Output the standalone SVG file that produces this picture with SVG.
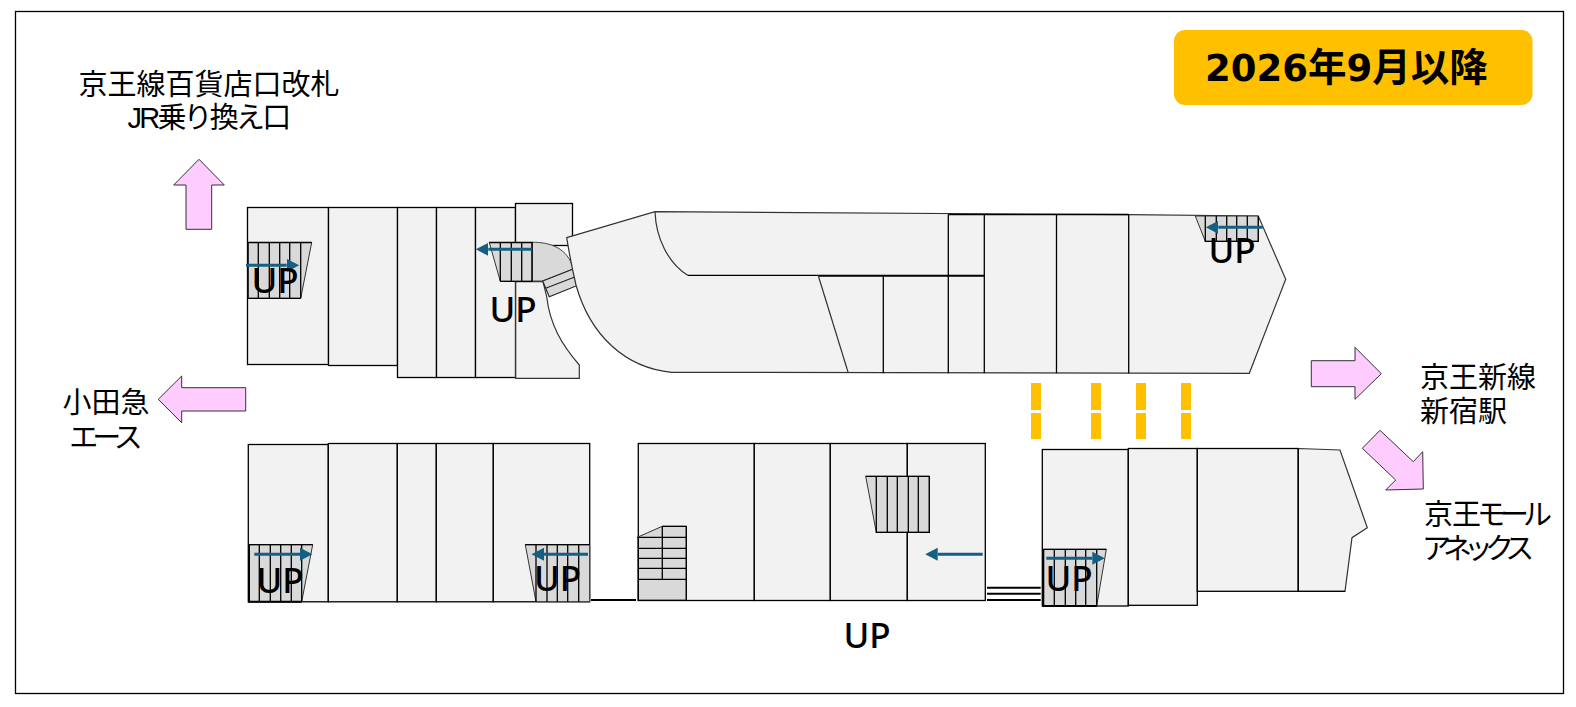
<svg xmlns="http://www.w3.org/2000/svg" width="1576" height="707" viewBox="0 0 1576 707">
<style>
.b{fill:#f2f2f2;stroke:#000;stroke-width:1.3}
.c{fill:#f2f2f2;stroke:#333;stroke-width:1.2}
.s{fill:#d9d9d9;stroke:#000;stroke-width:1.3}
.t{fill:#d9d9d9;stroke:#333;stroke-width:1}
.l{fill:none;stroke:#000;stroke-width:1.3}
.w{fill:none;stroke:#000;stroke-width:2}
.a{fill:none;stroke:#156082;stroke-width:3;marker-end:url(#h)}
.p{fill:#ffccff;stroke:#333;stroke-width:1}
.y{fill:#ffc000}
text{font-family:"Liberation Sans","Noto Sans CJK JP",sans-serif;font-size:29px;fill:#000}
.u{font-family:"Noto Sans",sans-serif;font-size:35px;font-weight:500;text-anchor:middle}
.m{text-anchor:middle}
</style>
<defs>
<marker id="h" markerUnits="userSpaceOnUse" markerWidth="13" markerHeight="14" refX="0" refY="7" orient="auto"><path d="M0 .5L12.5 7L0 13.500Z" fill="#156082"/></marker>
</defs>
<rect id="frame" x="15.500" y="11.500" width="1548" height="682" fill="#fff" stroke="#000" stroke-width="1.300"/>
<g id="badge"><rect x="1174" y="30" width="358.500" height="75" rx="11" fill="#ffc000"/><text x="1205" y="81" style="font-size:38.500px;font-weight:700"><tspan style="font-family:'DejaVu Sans',sans-serif;font-size:37px">2026</tspan>年<tspan style="font-family:'DejaVu Sans',sans-serif;font-size:37px">9</tspan>月以降</text></g>

<g id="block-top-left">
<rect class="b" x="247.500" y="207.500" width="81" height="157"/>
<rect class="b" x="328.500" y="207.500" width="69" height="158"/>
<rect class="b" x="397.500" y="207.500" width="39" height="170"/>
<rect class="b" x="436.500" y="207.500" width="39" height="170"/>
<rect class="b" x="475.500" y="207.500" width="40" height="170"/>
<rect class="b" x="515.500" y="203.500" width="57" height="42"/>
<path class="c" d="M515.700 281.700H543L546.700 296.700C550 325 562 345 579.300 365V378.300H515.700Z"/>
<path class="s" d="M532 242.300C550 242 568 248 573.300 269L542.700 281H532Z" style="stroke-width:1;stroke:#444"/>
<path class="s" d="M542.700 281L573.300 269L576.700 285.700L549.300 296.700ZM545.700 288.300L574.700 277" style="stroke-width:1.100;stroke:#222"/>
</g>
<g id="stair-1"><path class="t" d="M248 242.500H311.700L300.700 298.300H248Z"/><path class="l" d="M248 242.500V298.300H300.700M248 242.500H311.700M258.300 242.500V298.300M269.300 242.500V298.300M279.700 242.500V298.300M289.700 242.500V298.300M300.700 242.500V298.300"/></g>
<g id="stair-2"><path class="t" d="M489.300 242.500H532V281.300H500.300Z"/><path class="l" d="M489.300 242.500H532V281.300H500.300M500.300 242.500V281.300M511.300 242.500V281.300M521.700 242.500V281.300"/></g>

<g id="block-top-main">
<path class="c" d="M566.700 237.700L655 211.700L1128.700 214.700L1258.300 216L1285.700 279.300L1249.300 373.300L671.700 372.300C625 368 590 335 576 285C572 268 569 252 566.700 237.700Z"/>
<path class="c" d="M655 211.700C656 238 668 263 687.700 275.300" style="fill:none"/>
<path class="l" d="M687.700 275.300H818.300"/>
<path class="w" d="M818.300 275.700H984.300"/>
<path class="c" d="M818.300 275.700L848.300 373" style="fill:none"/>
<path class="l" d="M883.300 275.700V373.300M948.300 214.500V373.300M984.300 214.500V373.300M1056.500 214.500V373.300M1128.700 214.700V373.300M948.300 214.500H1128.700"/>
</g>
<g id="stair-3"><path class="t" d="M1195.300 216H1258.300V241.300H1205.300Z"/><path class="l" d="M1205.300 216V241.300H1258.300V216M1216.300 216V241.300M1226.700 216V241.300M1236.700 216V241.300M1247.300 216V241.300"/></g>

<g id="block-bottom-left">
<rect class="b" x="248.300" y="444.500" width="80" height="157.300"/>
<rect class="b" x="328.300" y="443.500" width="69" height="158.300"/>
<rect class="b" x="397.300" y="443.500" width="39" height="158.300"/>
<rect class="b" x="436.300" y="443.500" width="57" height="158.300"/>
<rect class="b" x="493.300" y="443.500" width="96.400" height="158.300"/>
</g>
<g id="stair-4"><path class="t" d="M249 544.700H312.700L301.700 601.700H249Z"/><path class="l" d="M249 544.700H312.700M259.300 544.700V601.700M270.300 544.700V601.700M280.700 544.700V601.700M291.300 544.700V601.700M301.700 544.700V601.700"/><path class="w" d="M249 544.700V601.700H301.700"/></g>
<g id="stair-5"><path class="t" d="M525.300 544.700H589.700V601.700H536Z"/><path class="l" d="M525.300 544.700H589.700M536 544.700V601.700M547 544.700V601.700M557.300 544.700V601.700M567.700 544.700V601.700M578.700 544.700V601.700"/></g>

<g id="block-bottom-middle">
<rect class="b" x="638.300" y="443.500" width="116" height="157"/>
<rect class="b" x="754.300" y="443.500" width="76" height="157"/>
<rect class="b" x="830.300" y="443.500" width="77" height="157"/>
<rect class="b" x="907.300" y="443.500" width="78" height="157"/>
</g>
<g id="stair-6"><path class="t" d="M865.700 476.300H929.300V532.300H876.300Z"/><path class="l" d="M865.700 476.300H929.300V532.300H876.300V476.300M887.300 476.300V532.300M897.300 476.300V532.300M908.300 476.300V532.300M918.300 476.300V532.300"/></g>
<g id="stair-7"><path class="t" d="M662.300 526.300H686.300V600.300H638.300V537.300L637.300 537.300Z"/><path class="l" d="M662.300 526.300H686.300V600.300H638.300V537.300M637.300 537.300H686.300M638.300 548.300H686.300M638.300 558.300H686.300M638.300 568.300H686.300M638.300 579.300H686.300M662.300 526.300V579.300"/></g>

<g id="block-bottom-right">
<rect class="b" x="1042.300" y="449.500" width="86" height="156.500"/>
<rect class="b" x="1128.300" y="448.500" width="69" height="156.800"/>
<rect class="b" x="1197.300" y="448.500" width="101" height="142.800"/>
<path class="c" d="M1298.300 448.500L1340 450L1367.300 527.700L1352 537.700L1345 591.300H1298.300Z"/>
<path class="l" d="M1298.300 448.500V591.300H1345"/>
</g>
<g id="stair-8"><path class="t" d="M1043.300 549.300H1106.300L1096.700 606H1043.300Z"/><path class="l" d="M1043.300 549.300H1106.300M1054.300 549.300V606M1065.300 549.300V606M1075.700 549.300V606M1085.700 549.300V606M1096.700 549.300V606"/><path class="w" d="M1043.300 549.300V606H1096.700"/></g>

<g id="connectors">
<path class="w" d="M591 600H636M987 587.700H1040.700M987 593.700H1040.700M987 600H1040.700"/>
<path class="a" d="M246 265.300H286.700"/>
<path class="a" d="M532 249.300H488.300"/>
<path class="a" d="M1262.700 227.300H1218.300"/>
<path class="a" d="M254.300 554.300H300"/>
<path class="a" d="M588 554.300H544"/>
<path class="a" d="M982.700 554.300H937.700"/>
<path class="a" d="M1046.300 558.300H1092.300"/>
</g>

<g id="gates">
<rect class="y" x="1031" y="383" width="10" height="27"/><rect class="y" x="1031" y="413" width="10" height="26"/>
<rect class="y" x="1091" y="383" width="10" height="27"/><rect class="y" x="1091" y="413" width="10" height="26"/>
<rect class="y" x="1136" y="383" width="10" height="27"/><rect class="y" x="1136" y="413" width="10" height="26"/>
<rect class="y" x="1181" y="383" width="10" height="27"/><rect class="y" x="1181" y="413" width="10" height="26"/>
</g>

<g id="direction-arrows">
<path class="p" d="M199 159.300L224.300 185H211.700V229.300H186V185H173.700Z"/>
<path class="p" d="M158.300 399.300L181.700 376V387.700H245.700V411H181.700V422.700Z"/>
<path class="p" d="M1311.300 360.700H1355V347.300L1381.300 373.700L1355 399.300V386.700H1311.300Z"/>
<path class="p" d="M1362.300 448.300L1380 430.300L1413.300 461.700L1422.700 451.700L1423.300 489L1385.700 490L1395.700 480Z"/>
</g>

<g id="labels">
<text class="u" x="275" y="293">UP</text>
<text class="u" x="513" y="322.400">UP</text>
<text class="u" x="1232" y="262.700">UP</text>
<text class="u" x="280" y="593.300">UP</text>
<text class="u" x="557.500" y="591">UP</text>
<text class="u" x="1069" y="590.700">UP</text>
<text class="u" x="867" y="648">UP</text>
<text class="m" x="209" y="94.500">京王線百貨店口改札</text>
<text class="m" x="208" y="128" style="letter-spacing:-2.800px">JR乗り換え口</text>
<text class="m" x="106" y="412.500">小田急</text>
<text class="m" x="103" y="448" style="letter-spacing:-6px">エース</text>
<text x="1420" y="388">京王新線</text>
<text x="1420" y="422">新宿駅</text>
<text x="1424" y="525" style="letter-spacing:-1px">京王<tspan style="letter-spacing:-6px" dx="-3">モール</tspan></text>
<text x="1422" y="559" style="letter-spacing:-8px">アネックス</text>
</g>
</svg>
